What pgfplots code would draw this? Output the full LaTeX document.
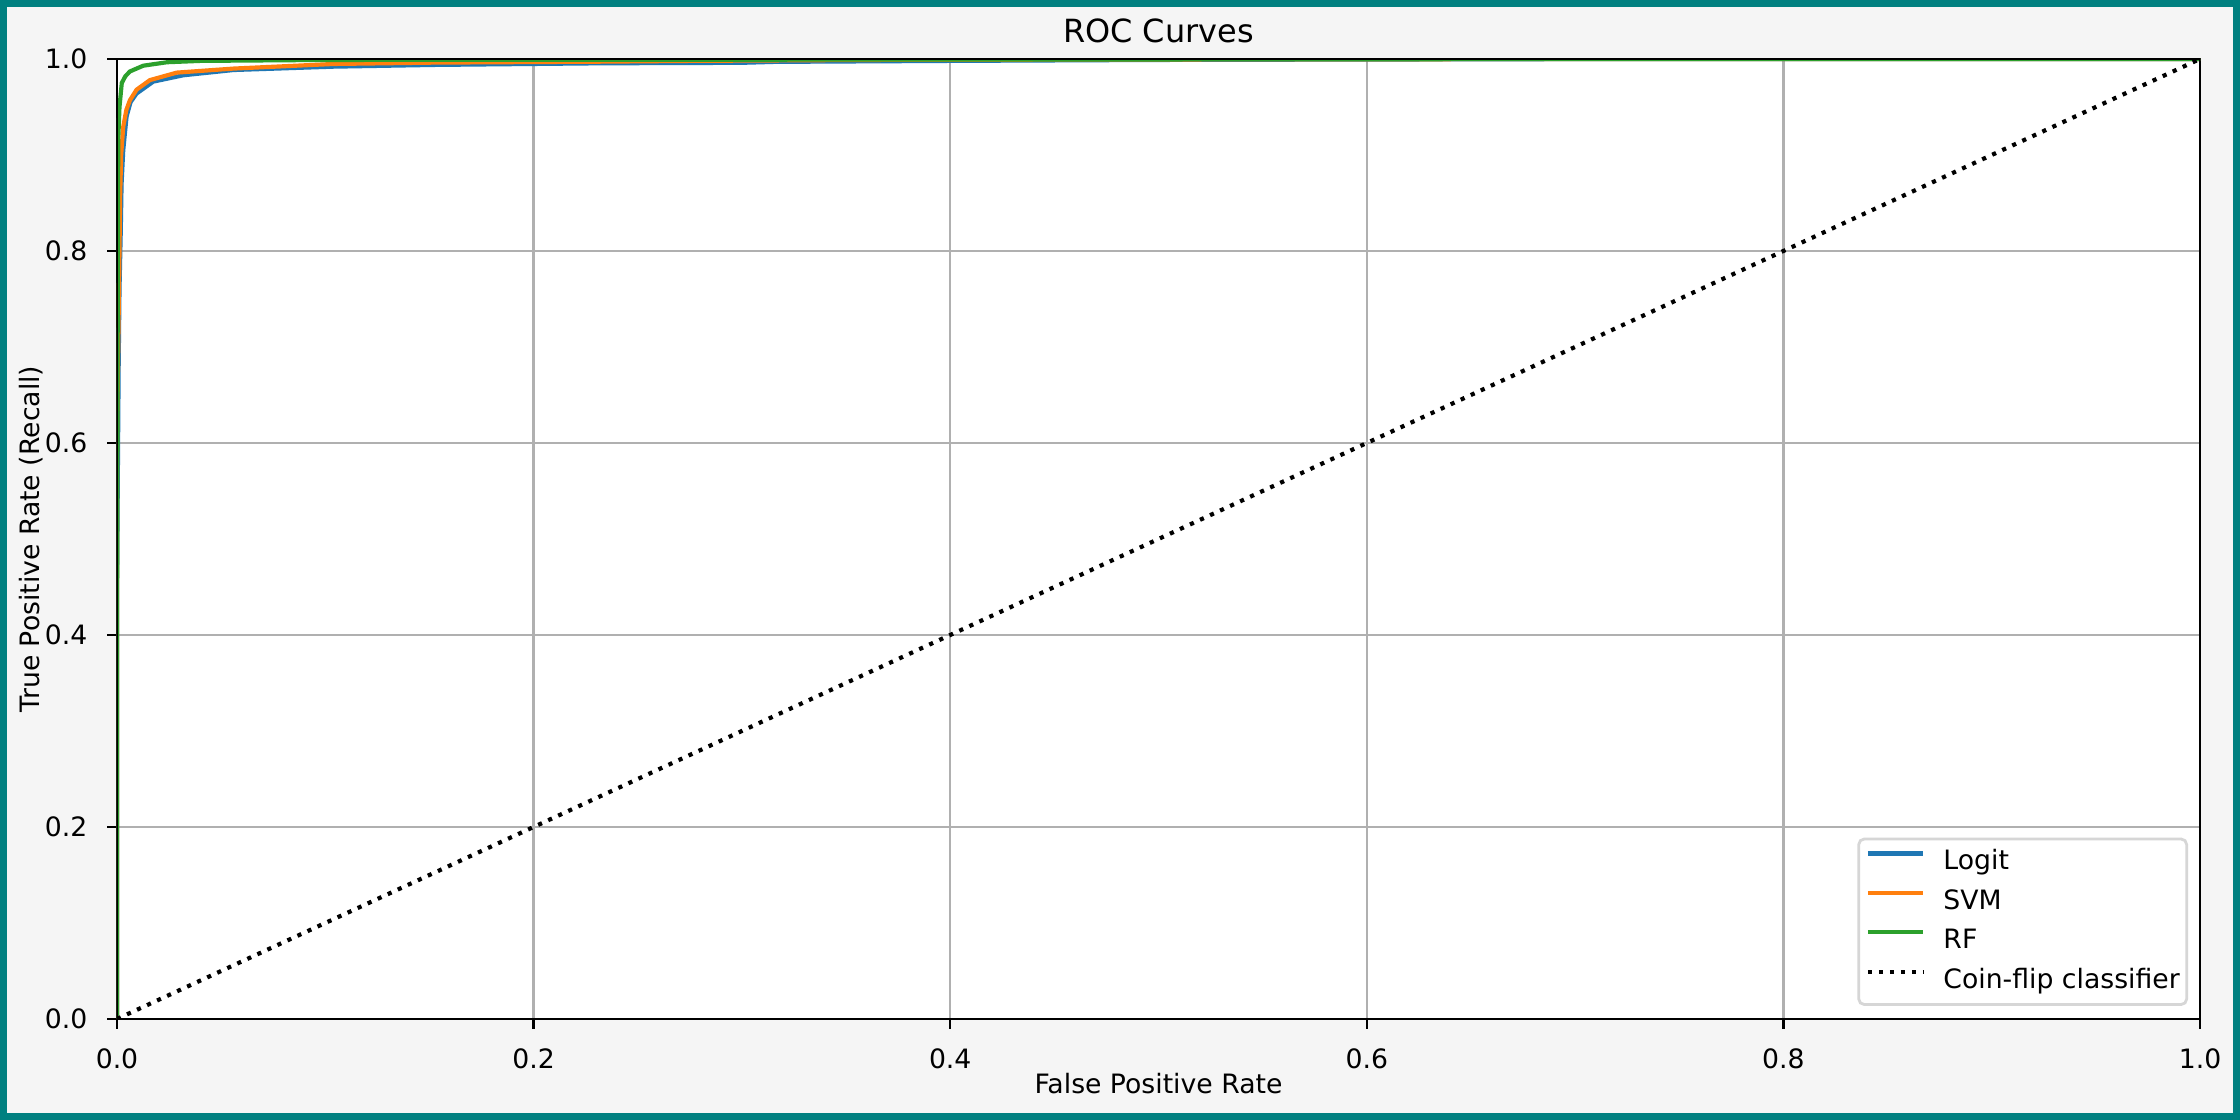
\documentclass[border=0pt]{standalone}
\usepackage{fontspec}
\setmainfont{DejaVu Sans}
\usepackage{pgfplots}
\pgfplotsset{compat=1.18}
\definecolor{bgteal}{HTML}{008080}
\definecolor{bggray}{HTML}{F5F5F5}
\definecolor{cLogit}{HTML}{1F77B4}
\definecolor{cSVM}{HTML}{FF7F0E}
\definecolor{cRF}{HTML}{2CA02C}
\definecolor{gridgray}{HTML}{B0B0B0}
\definecolor{legedge}{HTML}{D6D6D6}
\begin{document}
\begin{tikzpicture}
\fill[bgteal] (-42.12pt,-36.36pt) rectangle (764.28pt,366.84pt);
\fill[bggray] (-39.6pt,-33.84pt) rectangle (761.76pt,364.32pt);
\begin{axis}[
  at={(0,0)}, anchor=south west,
  scale only axis, width=749.88pt, height=345.6pt,
  xmin=0, xmax=1, ymin=0, ymax=1,
  axis background/.style={fill=white},
  axis line style={line width=0.8pt, black},
  xtick={0,0.2,0.4,0.6,0.8,1.0},
  ytick={0,0.2,0.4,0.6,0.8,1.0},
  tick align=outside, tick pos=left,
  major tick length=3.5pt,
  every tick/.style={line width=0.8pt, black},
  minor tick num=0,
  grid=major,
  major grid style={line width=0.8pt, gridgray},
  /pgf/number format/assume math mode=true,
  /pgf/number format/fixed, /pgf/number format/fixed zerofill,
  /pgf/number format/precision=1,
  ticklabel style={font=\fontsize{9.6}{11.5}\selectfont},
  xticklabel style={anchor=north, inner sep=0pt, yshift=-7pt},
  yticklabel style={anchor=east, inner sep=0pt, xshift=-7pt},
  title={ROC Curves},
  title style={at={(axis description cs:0.5,1)}, anchor=base, inner sep=0pt, font=\fontsize{11.5}{13.8}\selectfont},
  xlabel={False Positive Rate},
  xlabel style={at={(axis description cs:0.5,-0.0781)}, anchor=base, inner sep=0pt, font=\fontsize{9.6}{11.5}\selectfont},
  ylabel={True Positive Rate (Recall)},
  ylabel style={at={(axis description cs:-0.03734,0.5)}, anchor=base, inner sep=0pt, font=\fontsize{9.6}{11.5}\selectfont},
  legend style={at={(axis description cs:0.99427,0.0136)}, anchor=south east,
    draw=legedge, line width=1pt, rounded corners=2pt, fill=white,
    inner xsep=2.5pt, inner ysep=3.5pt, row sep=4.2pt, column sep=6.5pt,
    font=\fontsize{9.6}{11.5}\selectfont,
    nodes={inner sep=0pt, text height=7.6pt, text depth=2.4pt}},
  legend cell align=left,
  legend image code/.code={\draw[#1, line width=1.5pt] (0pt,3.3pt) -- (20pt,3.3pt);},
]
\addplot[cLogit, line width=1.5pt] coordinates {
(0,0) (0,0.45) (0.0008,0.68) (0.0012,0.76) (0.0018,0.82) (0.0022,0.87) (0.003,0.905)
(0.0046,0.94) (0.0065,0.955) (0.0094,0.964) (0.0174,0.9764) (0.0318,0.983)
(0.0559,0.9885) (0.104,0.992) (0.152,0.9938) (0.232,0.9955) (0.30,0.996)
(0.316,0.997) (0.40,0.998) (0.5,0.999) (0.73,1.0) (1,1)};
\addlegendentry{Logit}
\addplot[cSVM, line width=1.5pt] coordinates {
(0,0) (0,0.6) (0.0012,0.80) (0.0015,0.856) (0.002,0.90) (0.003,0.9295) (0.0045,0.947)
(0.0062,0.957) (0.0094,0.968) (0.0158,0.978) (0.0287,0.9858) (0.0559,0.99)
(0.104,0.9948) (0.152,0.9962) (0.232,0.9972) (0.275,0.998) (0.36,0.999)
(0.5,0.9995) (0.73,1) (1,1)};
\addlegendentry{SVM}
\addplot[cRF, line width=1.5pt] coordinates {
(0,0) (0,0.37) (0.0003,0.7) (0.0006,0.916) (0.0012,0.95) (0.0023,0.975) (0.004,0.982)
(0.0062,0.987) (0.0126,0.993) (0.024,0.9966) (0.04,0.998) (0.1,0.999)
(0.49,0.9995) (0.73,1) (1,1)};
\addlegendentry{RF}
\addplot[black, line width=1.5pt, dash pattern=on 1.5pt off 2.475pt] coordinates {(0,0) (1,1)};
\addlegendentry{Coin-flip classifier}
\draw[black, line width=0.8pt] (rel axis cs:0,0) rectangle (rel axis cs:1,1);
\end{axis}
\pgfresetboundingbox
\path[use as bounding box] (-42.12pt,-36.36pt) rectangle (764.28pt,366.84pt);
\end{tikzpicture}
\end{document}
